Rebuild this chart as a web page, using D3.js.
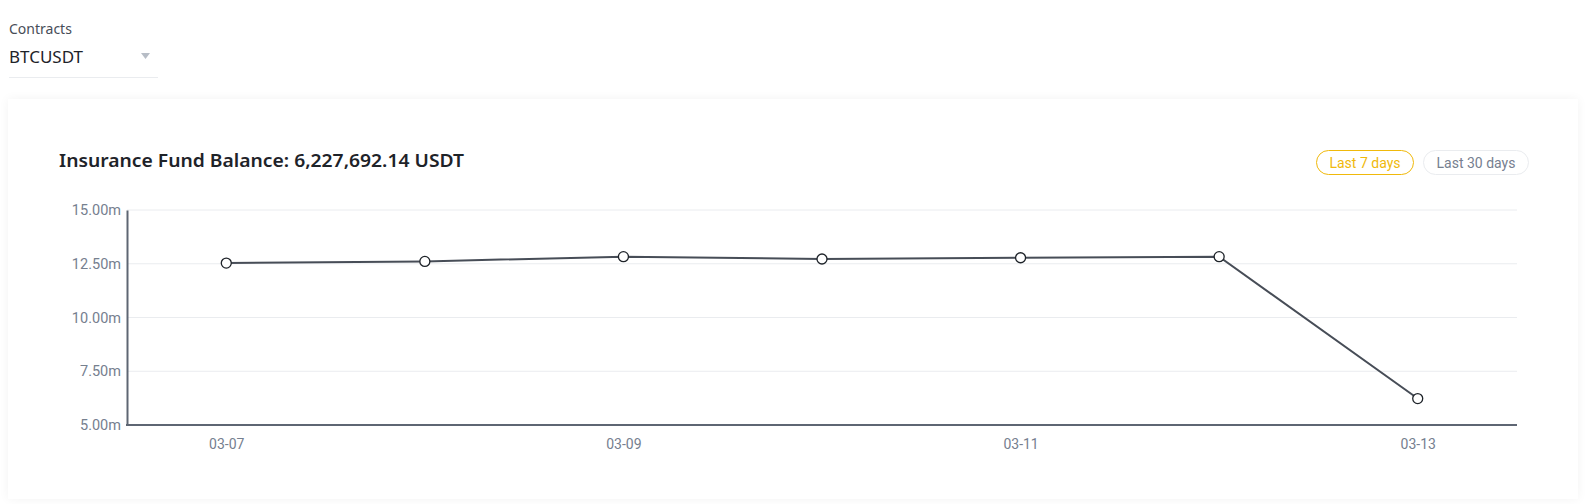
<!DOCTYPE html>
<html>
<head>
<meta charset="utf-8">
<title>Insurance Fund</title>
<script src="https://cdn.jsdelivr.net/npm/d3@7"></script>
<style>
  body { margin:0; background:#fff; font-family:"Noto Sans", Roboto, sans-serif; }
  #wrap { position:relative; width:1585px; height:504px; overflow:hidden; }
  .card { position:absolute; left:8px; top:99px; width:1570px; height:400px; background:#fff;
          box-shadow:0 0 10px rgba(0,0,0,0.05); }
</style>
</head>
<body>
<div id="wrap">
  <div class="card"></div>
  <svg id="chart" width="1585" height="504" style="position:absolute;left:0;top:0;"></svg>
</div>

<script type="text/javascript">
  var dates = ["03-07", "03-08", "03-09", "03-10", "03-11", "03-12", "03-13"];
  var balances = [12.53, 12.61, 12.83, 12.72, 12.78, 12.83, 6.23]; // millions USDT
  var yTicks = [5, 7.5, 10, 12.5, 15];
  var shownDates = ["03-07", "03-09", "03-11", "03-13"];

  var svg = d3.select("#chart");

  // contract selector
  svg.append("text").attr("x", 9).attr("y", 34)
      .attr("font-size", 14).attr("fill", "#474D57").text("Contracts");
  svg.append("text").attr("x", 9).attr("y", 63)
      .attr("font-size", 17).attr("fill", "#1E2329").text("BTCUSDT");
  svg.append("path").attr("d", "M141,53 L150,53 L145.5,59 Z").attr("fill", "#B7BDC6");
  svg.append("line").attr("x1", 9).attr("x2", 158).attr("y1", 77.5).attr("y2", 77.5)
      .attr("stroke", "#EAECEF");

  // title
  svg.append("text").attr("x", 59).attr("y", 167)
      .attr("font-size", 18).attr("font-weight", 600).attr("fill", "#1E2329")
      .attr("textLength", 405).attr("lengthAdjust", "spacingAndGlyphs")
      .text("Insurance Fund Balance: 6,227,692.14 USDT");

  // range buttons
  var buttons = [
    {label: "Last 7 days", x: 1316, w: 97, active: true},
    {label: "Last 30 days", x: 1423, w: 105, active: false}
  ];
  var btn = svg.selectAll("g.btn").data(buttons).enter().append("g")
      .attr("transform", function(d) { return "translate(" + d.x + ",150)"; });
  btn.append("rect").attr("x", 0.5).attr("y", 0.5)
      .attr("width", function(d) { return d.w; }).attr("height", 24).attr("rx", 12)
      .attr("fill", "#fff")
      .attr("stroke", function(d) { return d.active ? "#F0B90B" : "#EAECEF"; });
  btn.append("text").attr("x", function(d) { return d.w / 2 + 0.5; }).attr("y", 17.5)
      .attr("text-anchor", "middle").attr("font-family", "Roboto").attr("font-size", 14)
      .attr("fill", function(d) { return d.active ? "#F0B90B" : "#76808F"; })
      .text(function(d) { return d.label; });

  // chart
  var x = d3.scalePoint().domain(dates).range([127, 1517]).padding(0.5);
  var y = d3.scaleLinear().domain([5, 15]).range([425, 210]);

  var g = svg.append("g");

  g.selectAll("line.grid").data(yTicks.slice(1)).enter().append("line")
      .attr("x1", 127).attr("x2", 1517)
      .attr("y1", function(d) { return y(d); }).attr("y2", function(d) { return y(d); })
      .attr("stroke", "#EAECEF").attr("stroke-width", 1);

  var yAxis = g.append("g").attr("transform", "translate(127,0)")
      .call(d3.axisLeft(y).tickValues(yTicks).tickSize(0).tickPadding(6)
        .tickFormat(function(d) { return d3.format(".2f")(d) + "m"; }));
  yAxis.select(".domain").attr("stroke", "#5E6673").attr("stroke-width", 2);
  yAxis.selectAll("text").attr("font-family", "Roboto").attr("font-size", 14.5).attr("fill", "#76808F");

  var xAxis = g.append("g").attr("transform", "translate(0,425)")
      .call(d3.axisBottom(x).tickValues(shownDates).tickSize(0).tickPadding(14));
  xAxis.select(".domain").attr("stroke", "#5E6673").attr("stroke-width", 2)
      .attr("d", "M126,0H1517");
  xAxis.selectAll("text").attr("font-family", "Roboto").attr("font-size", 14).attr("fill", "#76808F");

  var line = d3.line()
      .x(function(d, i) { return x(dates[i]); })
      .y(function(d) { return y(d); });

  g.append("path").datum(balances).attr("d", line)
      .attr("fill", "none").attr("stroke", "#474D57").attr("stroke-width", 2);

  g.selectAll("circle").data(balances).enter().append("circle")
      .attr("cx", function(d, i) { return x(dates[i]); })
      .attr("cy", function(d) { return y(d); })
      .attr("r", 5).attr("fill", "#fff").attr("stroke", "#1E2329").attr("stroke-width", 1.3);
</script>
</body>
</html>
